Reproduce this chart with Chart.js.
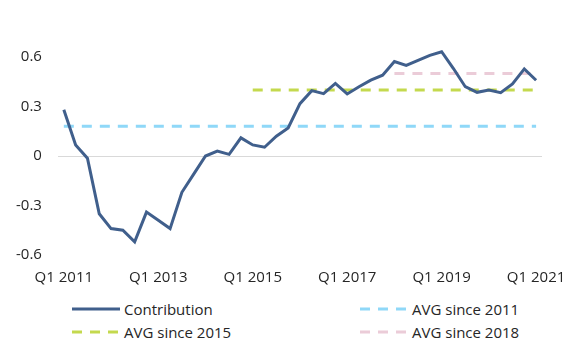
<!DOCTYPE html>
<html>
<head>
<meta charset="utf-8">
<script src="https://cdn.jsdelivr.net/npm/chart.js@4/dist/chart.umd.min.js"></script>
<style>
  html, body { margin: 0; padding: 0; background: #ffffff; }
  body { width: 574px; height: 358px; position: relative; overflow: hidden; font-family: "Open Sans", sans-serif; }
  #wrap { position: absolute; left: 0; top: 0; width: 574px; height: 290px; }
  .leg { position: absolute; display: flex; align-items: center; font-size: 15px; color: #262626; white-space: nowrap; }
  .leg svg { margin-right: 4px; }
</style>
</head>
<body>
<div id="wrap"><canvas id="c"></canvas></div>
<div id="legend"></div>
<script>
const quarters = [
  "Q1 2011","Q2 2011","Q3 2011","Q4 2011",
  "Q1 2012","Q2 2012","Q3 2012","Q4 2012",
  "Q1 2013","Q2 2013","Q3 2013","Q4 2013",
  "Q1 2014","Q2 2014","Q3 2014","Q4 2014",
  "Q1 2015","Q2 2015","Q3 2015","Q4 2015",
  "Q1 2016","Q2 2016","Q3 2016","Q4 2016",
  "Q1 2017","Q2 2017","Q3 2017","Q4 2017",
  "Q1 2018","Q2 2018","Q3 2018","Q4 2018",
  "Q1 2019","Q2 2019","Q3 2019","Q4 2019",
  "Q1 2020","Q2 2020","Q3 2020","Q4 2020",
  "Q1 2021"
];
const tickLabels = ["Q1 2011","Q1 2013","Q1 2015","Q1 2017","Q1 2019","Q1 2021"];
const yTicks = [-0.6, -0.3, 0, 0.3, 0.6];

const contribution = [
  0.28, 0.067, -0.014, -0.35,
  -0.44, -0.45, -0.52, -0.34,
  -0.39, -0.44, -0.22, -0.11,
  0.0, 0.03, 0.01, 0.11,
  0.067, 0.053, 0.12, 0.17,
  0.317, 0.396, 0.378, 0.44,
  0.376, 0.42, 0.46, 0.49,
  0.573, 0.549, 0.579, 0.61,
  0.632, 0.53, 0.42, 0.386,
  0.40, 0.384, 0.437, 0.528,
  0.459
];
const avgSince2011 = [
  0.18, 0.18, 0.18, 0.18, 0.18, 0.18, 0.18, 0.18, 0.18, 0.18,
  0.18, 0.18, 0.18, 0.18, 0.18, 0.18, 0.18, 0.18, 0.18, 0.18,
  0.18, 0.18, 0.18, 0.18, 0.18, 0.18, 0.18, 0.18, 0.18, 0.18,
  0.18, 0.18, 0.18, 0.18, 0.18, 0.18, 0.18, 0.18, 0.18, 0.18,
  0.18
];
const avgSince2015 = [
  null, null, null, null, null, null, null, null, null, null,
  null, null, null, null, null, null, 0.40, 0.40, 0.40, 0.40,
  0.40, 0.40, 0.40, 0.40, 0.40, 0.40, 0.40, 0.40, 0.40, 0.40,
  0.40, 0.40, 0.40, 0.40, 0.40, 0.40, 0.40, 0.40, 0.40, 0.40,
  0.40
];
const avgSince2018 = [
  null, null, null, null, null, null, null, null, null, null,
  null, null, null, null, null, null, null, null, null, null,
  null, null, null, null, null, null, null, null, 0.50, 0.50,
  0.50, 0.50, 0.50, 0.50, 0.50, 0.50, 0.50, 0.50, 0.50, 0.50,
  0.50
];

const COL_LINE = "#405f8c";
const COL_2011 = "#8fd8f8";
const COL_2015 = "#c4d94e";
const COL_2018 = "#ebccd8";
const DASH = [10, 8];

const series = [
  { label: "Contribution", data: contribution, color: COL_LINE, dash: [] , order: 0},
  { label: "AVG since 2011", data: avgSince2011, color: COL_2011, dash: DASH, order: 3},
  { label: "AVG since 2015", data: avgSince2015, color: COL_2015, dash: DASH, order: 2},
  { label: "AVG since 2018", data: avgSince2018, color: COL_2018, dash: DASH, order: 1}
];

Chart.defaults.font.family = '"Open Sans", sans-serif';
Chart.defaults.font.size = 15;
Chart.defaults.color = "#262626";

new Chart(document.getElementById("c"), {
  type: "line",
  data: {
    labels: quarters,
    datasets: series.map(s => ({
      label: s.label,
      data: s.data,
      borderColor: s.color,
      backgroundColor: s.color,
      borderWidth: 3,
      borderDash: s.dash,
      pointRadius: 0,
      tension: 0,
      fill: false,
      spanGaps: false,
      clip: false,
      order: s.order
    }))
  },
  options: {
    responsive: true,
    maintainAspectRatio: false,
    animation: false,
    layout: { padding: { top: 57, right: 32, left: 0, bottom: 0 } },
    plugins: { legend: { display: false }, tooltip: { enabled: false } },
    scales: {
      x: {
        type: "category",
        offset: true,
        grid: { display: true, drawOnChartArea: false, drawTicks: true, tickLength: 11, color: "rgba(0,0,0,0)" },
        border: { display: false },
        ticks: {
          autoSkip: false,
          maxRotation: 0,
          padding: 3,
          callback: function(v, i) {
            const l = quarters[i];
            return tickLabels.includes(l) ? l : "";
          }
        }
      },
      y: {
        min: -0.6,
        max: 0.6,
        afterBuildTicks: axis => { axis.ticks = yTicks.map(v => ({ value: v })); },
        grid: {
          drawTicks: false,
          lineWidth: 1,
          color: ctx => (ctx.tick && Math.abs(ctx.tick.value) < 1e-9) ? "#d9d9d9" : "rgba(0,0,0,0)"
        },
        border: { display: false },
        ticks: {
          padding: 16,
          callback: v => Math.abs(v) < 1e-9 ? "0" : Number(v).toFixed(1)
        }
      }
    }
  }
});

// Legend (two columns)
const legendPos = [
  { x: 72, y: 309 }, { x: 360, y: 309 }, { x: 72, y: 332 }, { x: 360, y: 332 }
];
const legendOrder = [0, 1, 2, 3];
const legendEl = document.getElementById("legend");
legendOrder.forEach((si, k) => {
  const s = series[si];
  const p = legendPos[k];
  const d = document.createElement("div");
  d.className = "leg";
  d.style.left = p.x + "px";
  d.style.top = (p.y - 11) + "px";
  d.style.height = "22px";
  const dashAttr = s.dash.length ? ` stroke-dasharray="${s.dash.join(' ')}"` : "";
  d.innerHTML = `<svg width="48" height="6"><line x1="0" y1="3" x2="48" y2="3" stroke="${s.color}" stroke-width="3"${dashAttr}/></svg><span>${s.label}</span>`;
  legendEl.appendChild(d);
});
</script>
</body>
</html>
